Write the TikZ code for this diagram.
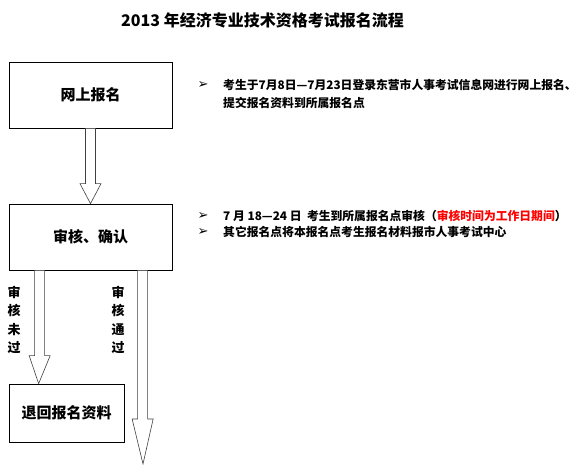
\documentclass[tikz,border=0pt]{standalone}
\usepackage{fontspec}
\setmainfont{Noto Sans CJK SC}
\newfontfamily\dingfont{DejaVu Sans}
\usetikzlibrary{calc,positioning}
\newcommand{\blockarrow}[3]{%
  \draw[hollow] let \p1=(#1), \p2=(#2) in
    (\x1-5pt,\y1) -- (\x1-5pt,\y2+#3) -- (\x1-10.5pt,\y2+#3) -- (\x2,\y2)
    -- (\x1+10.5pt,\y2+#3) -- (\x1+5pt,\y2+#3) -- (\x1+5pt,\y1) -- cycle;}
\tikzset{
  stepbox/.style={draw, line width=0.7pt, inner sep=0pt,
    font=\bfseries\fontsize{15}{15}\selectfont},
  hollow/.style={draw=black!75, line width=0.6pt, fill=white},
  note/.style={anchor=west, inner sep=0pt, font=\bfseries\fontsize{11.8}{12}\selectfont},
  bullet/.style={inner sep=0pt, font=\dingfont\bfseries\fontsize{13}{13}\selectfont},
  vlabel/.style={align=center, inner sep=0pt, font=\bfseries\fontsize{13}{18.5}\selectfont}
}
\begin{document}
\begin{tikzpicture}[x=1pt,y=-1pt]
    \fill[white] (0,0) rectangle (580,465);
    \useasboundingbox (0,0) rectangle (580,465);

    % Title
    \node[inner sep=0pt, font=\bfseries\fontsize{16}{16}\selectfont] (title) at (262.5,20) {2013 年经济专业技术资格考试报名流程};

    % Boxes
    \node[stepbox, minimum width=163, minimum height=66] (web) at (90.5,95) {网上报名};
    \node[stepbox, minimum width=163, minimum height=66] (check) at (90.5,237) {审核、确认};
    \node[stepbox, minimum width=115, minimum height=58] (back) at (66.5,413) {退回报名资料};

    % Hollow arrows
    \blockarrow{web.south}{check.north}{20pt}
    \coordinate (failtop) at ([xshift=31pt]check.south west);
    \coordinate (failtip) at ([xshift=30pt]back.north west);
    \blockarrow{failtop}{failtip}{28pt}
    \coordinate (passtop) at ([xshift=134pt]check.south west);
    \coordinate (passtip) at (143,464);
    \blockarrow{passtop}{passtip}{45pt}

    \node[vlabel] (failtxt) at (14,320) {审\\核\\未\\过};
    \node[vlabel] (passtxt) at (118,320) {审\\核\\通\\过};

    % Notes on the right
    \node[bullet] (bul1) at (203,85) {➢};
    \node[note] (note1) at (223,85) {考生于7月8日—7月23日登录东营市人事考试信息网进行网上报名、};
    \node[note] (note2) at (223,103) {提交报名资料到所属报名点};

    \node[bullet] (bul2) at (203,216) {➢};
    \node[note] (note3) at (223,216) {7 月 18—24 日\ \ 考生到所属报名点审核（\textcolor{red}{审核时间为工作日期间}）};
    \node[bullet] (bul3) at (203,232) {➢};
    \node[note] (note4) at (223,232) {其它报名点将本报名点考生报名材料报市人事考试中心};
\end{tikzpicture}
\end{document}
